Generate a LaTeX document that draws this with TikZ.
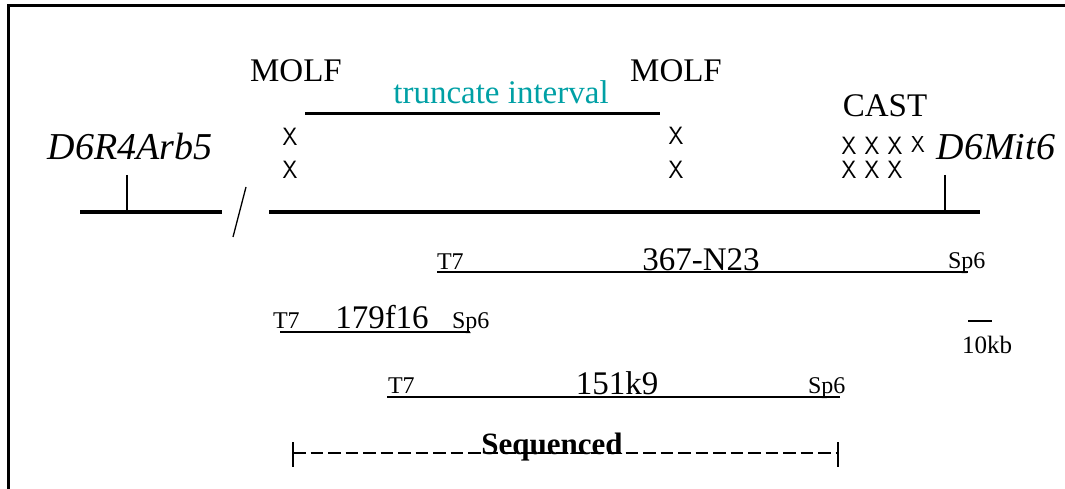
\documentclass[tikz,border=0pt]{standalone}
\usepackage{fontspec}
\setmainfont{Liberation Serif}
\definecolor{tealtext}{RGB}{0,160,165}
\newcommand{\crossmark}{\scalebox{0.95}[1]{X}}
\begin{document}
\begin{tikzpicture}[x=1pt,y=-1pt,
  lbl/.style={inner sep=0pt,outer sep=0pt},
  strain/.style={lbl,anchor=base,font=\fontsize{33}{36}\selectfont},
  marker/.style={lbl,anchor=base,font=\fontsize{38}{42}\selectfont\itshape},
  clonename/.style={lbl,anchor=base,font=\fontsize{33}{36}\selectfont},
  endname/.style={lbl,anchor=base west,font=\fontsize{24}{26}\selectfont},
  xmark/.style={lbl,font=\fontsize{25}{25}\sffamily},
  chrom/.style={line width=4.5pt},
  clone/.style={line width=1.4pt},
  tick/.style={line width=1.3pt},
  frame/.style={line width=3pt}]
\useasboundingbox (0,0) rectangle (1065,489);
% frame (top and left)
\coordinate (f1) at (1065,5.5);
\coordinate (f2) at (8.5,5.5);
\coordinate (f3) at (8.5,489);
\draw[frame] (f1) -- (f2) -- (f3);
% chromosome
\coordinate (ca) at (80,212);
\coordinate (cb) at (222,212);
\coordinate (cc) at (269,212);
\coordinate (cd) at (980,212);
\draw[chrom] (ca) -- (cb);
\draw[chrom] (cc) -- (cd);
\coordinate (s1) at (233,237);
\coordinate (s2) at (246,187);
\draw[tick] (s1) -- (s2);
% markers
\coordinate (t1a) at (127,175); \coordinate (t1b) at (127,211);
\draw[tick] (t1a) -- (t1b);
\coordinate (t2a) at (945,175); \coordinate (t2b) at (945,211);
\draw[tick] (t2a) -- (t2b);
\node[marker] (arb) at (130,160) {D6R4Arb5};
\node[marker] (mit) at (996,160) {D6Mit6};
% strains
\node[strain] (molf1) at (296,82) {MOLF};
\node[strain] (molf2) at (676,82) {MOLF};
\node[strain] (cast) at (885,117) {CAST};
% truncate interval
\coordinate (ti1) at (305,114); \coordinate (ti2) at (660,114);
\draw[line width=3pt] (ti1) -- (ti2);
\node[strain,text=tealtext] (trunc) at (501,104) {truncate interval};
% crossover marks
\node[xmark] (xa1) at (290,137) {\crossmark};
\node[xmark] (xa2) at (290,170) {\crossmark};
\node[xmark] (xb1) at (676,136) {\crossmark};
\node[xmark] (xb2) at (676,170) {\crossmark};
\node[xmark] (xc1) at (849,146) {\crossmark};
\node[xmark] (xc2) at (872,146) {\crossmark};
\node[xmark] (xc3) at (895,146) {\crossmark};
\node[xmark,font=\fontsize{23}{23}\sffamily] (xc4) at (918,145) {\crossmark};
\node[xmark] (xd1) at (849,170) {\crossmark};
\node[xmark] (xd2) at (872,170) {\crossmark};
\node[xmark] (xd3) at (895,170) {\crossmark};
% clone 367-N23
\coordinate (k1a) at (437,272); \coordinate (k1b) at (968,272);
\draw[clone] (k1a) -- (k1b);
\node[endname] (k1t) at (437,269) {T7};
\node[clonename] (k1n) at (701,270) {367-N23};
\node[endname] (k1s) at (948,268) {Sp6};
% clone 179f16
\coordinate (k2a) at (280,332); \coordinate (k2b) at (470,332);
\draw[clone] (k2a) -- (k2b);
\node[endname] (k2t) at (273,328) {T7};
\node[clonename] (k2n) at (382,328) {179f16};
\node[endname] (k2s) at (452,328) {Sp6};
% clone 151k9
\coordinate (k3a) at (387,397); \coordinate (k3b) at (840,397);
\draw[clone] (k3a) -- (k3b);
\node[endname] (k3t) at (388,393) {T7};
\node[clonename] (k3n) at (617,394) {151k9};
\node[endname] (k3s) at (808,393) {Sp6};
% scale bar
\coordinate (sb1) at (968,321); \coordinate (sb2) at (992,321);
\draw[line width=2.5pt] (sb1) -- (sb2);
\node[lbl,anchor=base,font=\fontsize{25}{27}\selectfont] (kb) at (987,353) {10kb};
% sequenced
\coordinate (q1) at (293,453); \coordinate (q2) at (838,453);
\draw[line width=2.4pt,dash pattern=on 12.5pt off 5pt] (q1) -- (q2);
\coordinate (q1a) at (293,442); \coordinate (q1b) at (293,467);
\coordinate (q2a) at (838,442); \coordinate (q2b) at (838,467);
\draw[tick] (q1a) -- (q1b);
\draw[tick] (q2a) -- (q2b);
\node[lbl,anchor=base,font=\fontsize{31}{33}\selectfont\bfseries] (seq) at (552,454) {Sequenced};
\end{tikzpicture}
\end{document}
